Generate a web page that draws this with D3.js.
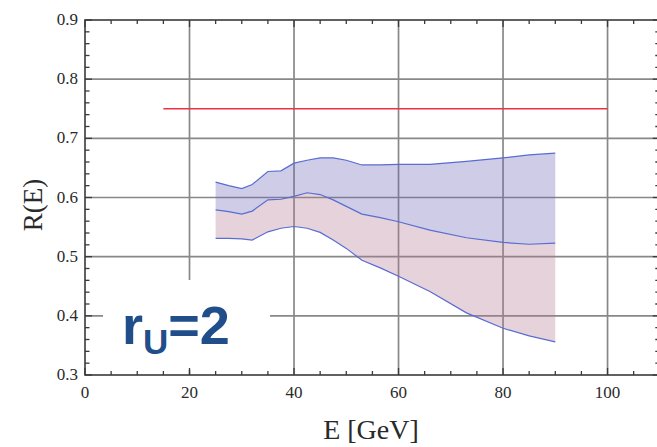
<!DOCTYPE html>
<html>
<head>
<meta charset="utf-8">
<script src="https://cdn.jsdelivr.net/npm/d3@7"></script>
<style>
  html, body { margin: 0; padding: 0; background: #fff; }
  svg { display: block; }
</style>
</head>
<body>
<div id="chart"></div>
<script>
// Data
var energies = [25, 27.5, 30, 32, 35, 37.5, 40, 42.5, 45, 47.5, 50, 53, 56.5, 60, 66, 73, 80, 85, 90];
var upperR  = [0.626, 0.620, 0.615, 0.622, 0.644, 0.645, 0.658, 0.663, 0.667, 0.667, 0.663, 0.655, 0.655, 0.656, 0.656, 0.661, 0.667, 0.672, 0.675];
var middleR = [0.579, 0.576, 0.572, 0.577, 0.596, 0.597, 0.602, 0.608, 0.605, 0.596, 0.585, 0.572, 0.566, 0.559, 0.545, 0.532, 0.524, 0.521, 0.523];
var lowerR  = [0.531, 0.531, 0.530, 0.528, 0.542, 0.548, 0.551, 0.548, 0.541, 0.528, 0.514, 0.494, 0.481, 0.467, 0.441, 0.405, 0.379, 0.366, 0.356];
var refLineE = [15, 100];
var refLineR = 0.75;
var xTicks = [0, 20, 40, 60, 80, 100];
var yTicks = [0.3, 0.4, 0.5, 0.6, 0.7, 0.8, 0.9];

var svgWidth = 657;
var svgHeight = 447;

var svg = d3.select("#chart")
    .append("svg")
    .attr("width", svgWidth)
    .attr("height", svgHeight);

// plot frame (right edge runs just past the window)
var x = d3.scaleLinear().domain([0, 110]).range([85, 659.8]);
var y = d3.scaleLinear().domain([0.3, 0.9]).range([375, 20]);

var rows = energies.map(function(e, i) {
    return { e: e, up: upperR[i], mid: middleR[i], lo: lowerR[i] };
});

// grid
var grid = svg.append("g").attr("stroke", "#888").attr("stroke-width", 1.7);
grid.selectAll("line.gx")
    .data(xTicks.filter(d => d > 0 && d < 110))
    .enter().append("line")
    .attr("x1", d => x(d)).attr("x2", d => x(d))
    .attr("y1", y(0.9)).attr("y2", y(0.3));
grid.selectAll("line.gy")
    .data(yTicks.filter(d => d > 0.3 && d < 0.9))
    .enter().append("line")
    .attr("x1", x(0)).attr("x2", x(110))
    .attr("y1", d => y(d)).attr("y2", d => y(d));

// white box behind the label
svg.append("rect")
    .attr("x", 103).attr("y", 280)
    .attr("width", 167).attr("height", 90)
    .attr("fill", "#fff");

// bands
var areaBlue = d3.area().x(d => x(d.e)).y0(d => y(d.mid)).y1(d => y(d.up));
var areaPink = d3.area().x(d => x(d.e)).y0(d => y(d.lo)).y1(d => y(d.mid));

svg.append("path").datum(rows)
    .attr("d", areaBlue)
    .attr("fill", "rgb(106,100,180)")
    .attr("fill-opacity", 0.33);
svg.append("path").datum(rows)
    .attr("d", areaPink)
    .attr("fill", "rgb(179,119,143)")
    .attr("fill-opacity", 0.33);

["up", "mid", "lo"].forEach(function(k) {
    var line = d3.line().x(d => x(d.e)).y(d => y(d[k]));
    svg.append("path").datum(rows)
        .attr("d", line)
        .attr("fill", "none")
        .attr("stroke", "rgb(88,108,210)")
        .attr("stroke-width", 1.2);
});

// red reference line
svg.append("line")
    .attr("x1", x(refLineE[0])).attr("x2", x(refLineE[1]))
    .attr("y1", y(refLineR)).attr("y2", y(refLineR))
    .attr("stroke", "#ee3340")
    .attr("stroke-width", 1.6);

// frame with inward ticks (Mathematica style)
var frame = svg.append("g").attr("stroke", "#3a3a3a");
frame.append("rect")
    .attr("x", x(0)).attr("y", y(0.9))
    .attr("width", x(110) - x(0)).attr("height", y(0.3) - y(0.9))
    .attr("fill", "none")
    .attr("stroke-width", 1.6);

var xMinor = d3.range(0, 111, 5);
var yMinor = d3.range(0, 31).map(i => 0.3 + i * 0.02);

xMinor.forEach(function(v) {
    var len = (v % 20 === 0) ? 7 : 4;
    frame.append("line").attr("x1", x(v)).attr("x2", x(v))
        .attr("y1", y(0.3)).attr("y2", y(0.3) - len).attr("stroke-width", 1.3);
    frame.append("line").attr("x1", x(v)).attr("x2", x(v))
        .attr("y1", y(0.9)).attr("y2", y(0.9) + len).attr("stroke-width", 1.3);
});
yMinor.forEach(function(v, i) {
    var len = (i % 5 === 0) ? 7 : 4.5;
    frame.append("line").attr("x1", x(0)).attr("x2", x(0) + len)
        .attr("y1", y(v)).attr("y2", y(v)).attr("stroke-width", 1.3);
    frame.append("line").attr("x1", x(110)).attr("x2", x(110) - len)
        .attr("y1", y(v)).attr("y2", y(v)).attr("stroke-width", 1.3);
});

// tick labels
var labelFont = "'Liberation Serif', 'DejaVu Serif', serif";
svg.selectAll("text.xt")
    .data(xTicks).enter().append("text")
    .attr("x", d => x(d)).attr("y", 398)
    .attr("text-anchor", "middle")
    .attr("font-family", labelFont).attr("font-size", 17)
    .attr("fill", "#2a2a2a")
    .text(d => d);
svg.selectAll("text.yt")
    .data(yTicks).enter().append("text")
    .attr("x", 78).attr("y", d => y(d) + 5)
    .attr("text-anchor", "end")
    .attr("font-family", labelFont).attr("font-size", 17)
    .attr("fill", "#2a2a2a")
    .text(d => d3.format(".1f")(d));

// axis titles
svg.append("text")
    .attr("x", 371).attr("y", 439)
    .attr("text-anchor", "middle")
    .attr("font-family", labelFont).attr("font-size", 28)
    .attr("fill", "#2a2a2a")
    .text("E [GeV]");
svg.append("text")
    .attr("transform", "translate(42, 205) rotate(-90)")
    .attr("text-anchor", "middle")
    .attr("font-family", labelFont).attr("font-size", 27)
    .attr("fill", "#2a2a2a")
    .text("R(E)");

// r_U = 2 label
var lab = svg.append("text")
    .attr("x", 122).attr("y", 344)
    .attr("font-family", "'Liberation Sans', Arial, sans-serif")
    .attr("font-weight", "bold")
    .attr("font-size", 54)
    .attr("fill", "#1f4e8a");
lab.append("tspan").text("r");
lab.append("tspan").attr("font-size", 35).attr("dy", 10).text("U");
lab.append("tspan").attr("dy", -10).text("=2");
</script>
</body>
</html>
